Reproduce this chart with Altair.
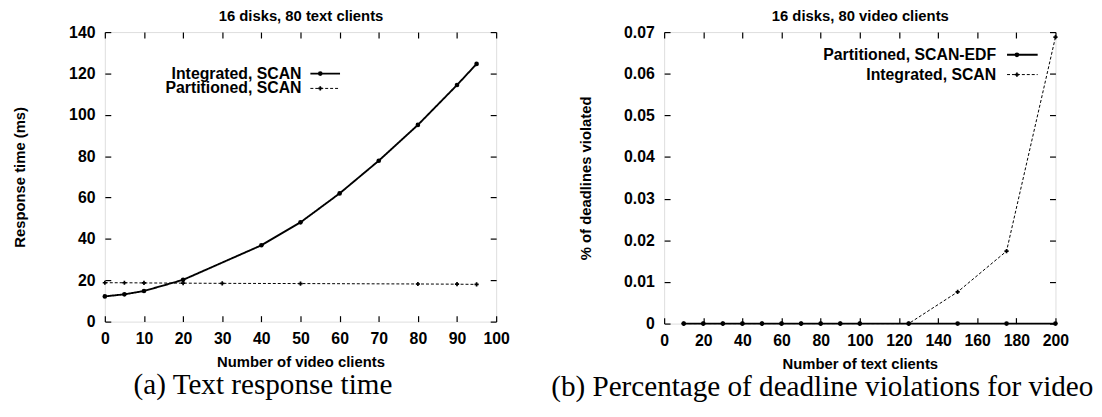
import altair as alt
import pandas as pd

SANS = "Liberation Sans"
SERIF = "Liberation Serif"

# ---------------- Panel (a): text response time ----------------
a_series = ["Integrated, SCAN", "Partitioned, SCAN"]
a_int_x = [0, 5, 10, 20, 40, 50, 60, 70, 80, 90, 95]
a_int_y = [12.2, 13.2, 14.8, 20.2, 36.9, 48.0, 62.0, 77.8, 95.1, 114.4, 124.6]
a_par_x = [0, 5, 10, 20, 30, 50, 80, 90, 95]
a_par_y = [18.8, 18.8, 18.7, 18.6, 18.5, 18.4, 18.2, 18.1, 18.0]
a_xticks = [0, 10, 20, 30, 40, 50, 60, 70, 80, 90, 100]
a_yticks = [0, 20, 40, 60, 80, 100, 120, 140]

# ---------------- Panel (b): deadline violations ----------------
b_series = ["Partitioned, SCAN-EDF", "Integrated, SCAN"]
b_x = [10, 20, 30, 40, 50, 60, 70, 80, 90, 100, 125, 150, 175, 200]
b_par_y = [0, 0, 0, 0, 0, 0, 0, 0, 0, 0, 0, 0, 0, 0]
b_int_y = [0, 0, 0, 0, 0, 0, 0, 0, 0, 0, 0, 0.0076, 0.0174, 0.0688]
b_xticks = [0, 20, 40, 60, 80, 100, 120, 140, 160, 180, 200]
b_yticks = [0, 0.01, 0.02, 0.03, 0.04, 0.05, 0.06, 0.07]

df_a = pd.DataFrame({
    "x": a_int_x + a_par_x,
    "y": a_int_y + a_par_y,
    "series": [a_series[0]] * len(a_int_x) + [a_series[1]] * len(a_par_x),
})
df_b = pd.DataFrame({
    "x": b_x + b_x,
    "y": b_par_y + b_int_y,
    "series": [b_series[0]] * len(b_x) + [b_series[1]] * len(b_x),
})
df_a["mk"] = df_a["series"]
df_b["mk"] = df_b["series"]

W, H_A, H_B = 396, 293, 295
DASHES = [[1, 0], [3, 2]]
WIDTHS = [1.9, 1.0]
SHAPES = ["circle", "cross"]
SIZES = [22, 18]


def legend_layers(series, text_x, sample_x0, sample_x1, marker_x, rows_y):
    out = []
    for i, s in enumerate(series):
        d = pd.DataFrame({"label": [s]})
        out.append(alt.Chart(d).mark_text(
            align="right", baseline="middle", font=SANS, fontSize=16,
            fontWeight="bold", color="black"
        ).encode(text="label:N", x=alt.value(text_x), y=alt.value(rows_y[i])))
        out.append(alt.Chart(d).mark_rule(
            color="black", strokeWidth=WIDTHS[i], strokeDash=DASHES[i]
        ).encode(x=alt.value(sample_x0), x2=alt.value(sample_x1),
                 y=alt.value(rows_y[i])))
        out.append(alt.Chart(d).mark_point(
            shape=SHAPES[i], filled=True, color="black", opacity=1,
            size=SIZES[i]
        ).encode(x=alt.value(marker_x), y=alt.value(rows_y[i])))
    return out


def panel(df, series, xdom, xticks, ydom, yticks, xtitle, ytitle, toptitle,
          caption, cap_dx, leg, ytitle_pad, ylabel_expr, height):
    xs = alt.Scale(domain=xdom, nice=False, zero=False)
    ys = alt.Scale(domain=ydom, nice=False, zero=False)
    common_axis = dict(
        domain=False, grid=False, tickSize=6, offset=-6, tickColor="black",
        tickWidth=1.2, labelFont=SANS, labelFontSize=16, labelFontWeight="bold",
        labelColor="black", labelFlush=False, labelOverlap=False,
        titleFont=SANS, titleFontSize=15, titleFontWeight="bold",
        titleColor="black",
    )
    base = alt.Chart(df)
    lines = base.mark_line(color="black").encode(
        x=alt.X("x:Q", scale=xs, axis=alt.Axis(
            orient="bottom", values=xticks, title=xtitle, labelPadding=9,
            titlePadding=8, **common_axis)),
        y=alt.Y("y:Q", scale=ys, axis=alt.Axis(
            orient="left", values=yticks, title=ytitle, labelPadding=10,
            labelExpr=ylabel_expr, titlePadding=ytitle_pad, **common_axis)),
        strokeDash=alt.StrokeDash("series:N", scale=alt.Scale(
            domain=series, range=DASHES), legend=None),
        strokeWidth=alt.StrokeWidth("series:N", scale=alt.Scale(
            domain=series, range=WIDTHS), legend=None),
    )
    points = base.mark_point(filled=True, color="black", opacity=1).encode(
        x=alt.X("x:Q", scale=xs, axis=None),
        y=alt.Y("y:Q", scale=ys, axis=None),
        shape=alt.Shape("mk:N", scale=alt.Scale(
            domain=series, range=SHAPES), legend=None),
        size=alt.Size("mk:N", scale=alt.Scale(
            domain=series, range=SIZES), legend=None),
    )
    mirror = base.mark_point(opacity=0).encode(
        x=alt.X("x:Q", scale=xs, axis=alt.Axis(
            orient="top", values=xticks, labels=False, title=toptitle,
            titlePadding=8, **common_axis)),
        y=alt.Y("y:Q", scale=ys, axis=alt.Axis(
            orient="right", values=yticks, labels=False, title=None,
            **common_axis)),
    )
    layers = [lines, points, mirror] + legend_layers(series, *leg)
    return alt.layer(*layers).resolve_axis(
        x="independent", y="independent"
    ).properties(
        width=W, height=height,
        title=alt.TitleParams(caption, orient="bottom", font=SERIF,
                              fontSize=29.5, fontWeight="normal",
                              color="black", dx=cap_dx, offset=2,
                              anchor="middle"),
    )


left = panel(df_a, a_series, [0, 100], a_xticks, [0, 140], a_yticks,
             "Number of video clients", "Response time (ms)",
             "16 disks, 80 text clients", "(a) Text response time", -38,
             (199, 208, 238, 218, [42, 57]), 42, "datum.label", H_A)

right = panel(df_b, b_series, [0, 200], b_xticks, [0, 0.07], b_yticks,
              "Number of text clients", "% of deadlines violated",
              "16 disks, 80 video clients",
              "(b) Percentage of deadline violations for video", -38,
              (336, 347, 378, 357, [23, 43]), 30,
              "datum.value == 0 ? '0' : format(datum.value, '.2f')", H_B)

chart = alt.hconcat(left, right, spacing=170, bounds="flush").resolve_scale(
    strokeDash="independent", strokeWidth="independent",
    shape="independent", size="independent"
).configure_view(
    stroke="black", strokeWidth=1.6
).configure(background="white").properties(
    padding={"left": 3, "top": -3, "right": 0, "bottom": 0}
)

chart.save("out.html", embed_options={"renderer": "svg", "actions": False})
